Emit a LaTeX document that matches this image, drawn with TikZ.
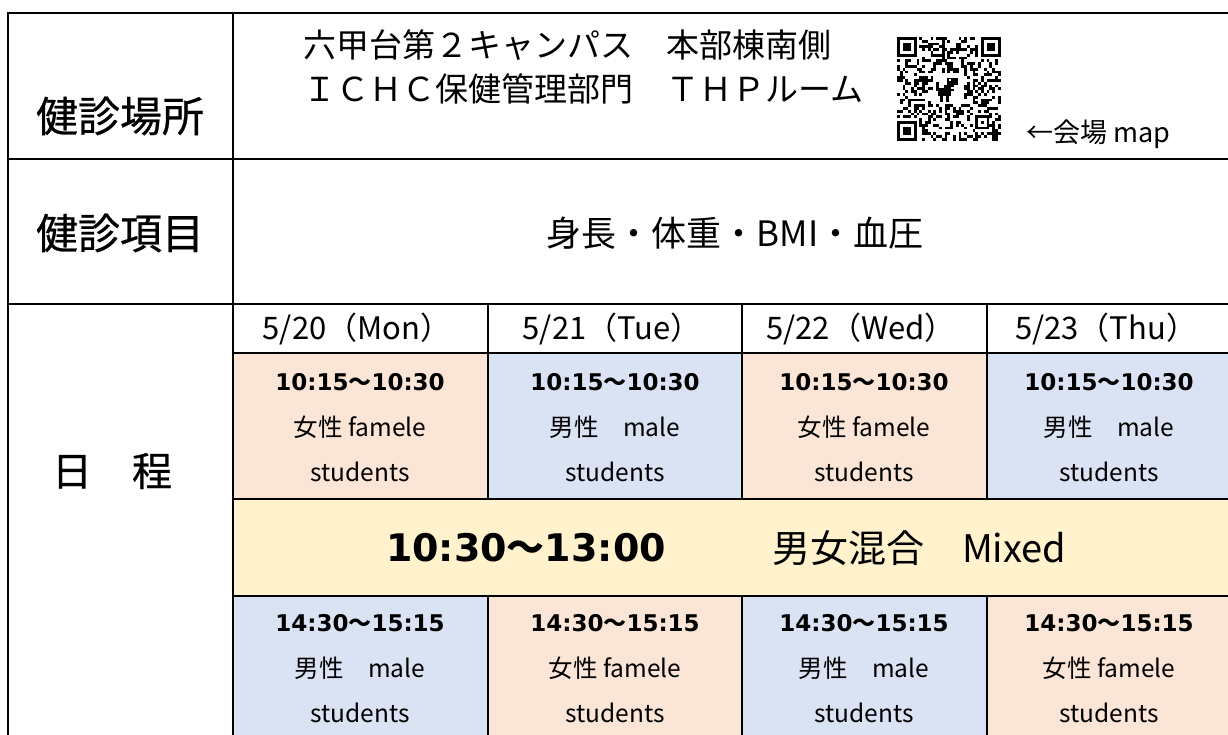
\documentclass[tikz,border=0pt]{standalone}
\usepackage{fontspec}
\newfontfamily\jp{Noto Sans CJK JP}
\newfontfamily\jpm{Noto Sans CJK JP}[FakeBold=0.6]
\newfontfamily\numf{DejaVu Sans}
\definecolor{orc}{HTML}{FBE5D6}
\definecolor{blc}{HTML}{DAE3F3}
\definecolor{yec}{HTML}{FFF2CC}
\newcommand{\tspan}[2]{{\numf\bfseries #1}{\jp\bfseries ～}{\numf\bfseries #2}}
\begin{document}
\begin{tikzpicture}[x=1pt,y=-1pt,line width=2pt,
  hdr/.style={inner sep=0pt,font=\jpm\fontsize{42}{50}\selectfont},
  loc/.style={inner sep=0pt,anchor=west,font=\jp\fontsize{33}{38}\selectfont},
  date/.style={inner sep=0pt,font=\jp\fontsize{31}{36}\selectfont},
  tm/.style={inner sep=0pt,font=\fontsize{23}{28}\selectfont},
  who/.style={inner sep=0pt,font=\jp\fontsize{24.5}{28}\selectfont},
  big/.style={inner sep=0pt,font=\fontsize{38}{44}\selectfont},
  thin/.style={line width=1.3pt}]
\useasboundingbox (0,0) rectangle (1228,735);
\clip (0,0) rectangle (1228,735);
% cell fills
\fill[orc] (233,353) rectangle (488,499);
\fill[blc] (488,353) rectangle (742,499);
\fill[orc] (742,353) rectangle (987,499);
\fill[blc] (987,353) rectangle (1240,499);
\fill[yec] (233,499) rectangle (1240,596);
\fill[blc] (233,596) rectangle (488,745);
\fill[orc] (488,596) rectangle (742,745);
\fill[blc] (742,596) rectangle (987,745);
\fill[orc] (987,596) rectangle (1240,745);
% grid
\draw (8,13) -- (1240,13);
\draw (8,159) -- (1240,159);
\draw (8,304) -- (1240,304);
\draw (233,353) -- (1240,353);
\draw (233,499) -- (1240,499);
\draw (233,596) -- (1240,596);
\draw (8,12) -- (8,745);
\draw (233,12) -- (233,745);
\foreach \x in {488,742,987}{
  \draw (\x,304) -- (\x,353);
  \draw[thin] (\x,353) -- (\x,499);
  \draw[thin] (\x,596) -- (\x,745);
}
% left headers
\node[hdr] (h1) at (120,116) {健診場所};
\node[hdr] (h2) at (120,233) {健診項目};
\node[hdr,font=\jpm\fontsize{40}{48}\selectfont] (h3) at (112,471) {日　程};
% location
\node[loc] (l1) at (302,45) {六甲台第２キャンパス　本部棟南側};
\node[loc] (l2) at (302,89) {ＩＣＨＣ保健管理部門　ＴＨＰルーム};
\node[inner sep=0pt,anchor=west,font=\jp\fontsize{27}{32}\selectfont] (map) at (1025,134) {←会場 map};
% QR code
\begin{scope}[shift={(897,37)}]
  \def\m{2.8}
  \pgfmathsetseed{12}
  \foreach \i in {0,...,36}{
    \foreach \j in {0,...,36}{
      \pgfmathsetmacro{\qrr}{rnd}
      \pgfmathtruncatemacro{\qz}{(\i<8)*(\j<8)+(\i>28)*(\j<8)+(\i<8)*(\j>28)+(\i>12)*(\i<24)*(\j>12)*(\j<24)+(\i>26)*(\i<33)*(\j>26)*(\j<33)}
      \pgfmathtruncatemacro{\qon}{(\qrr<0.42)*(\qz==0)}
      \ifnum\qon=1 \fill[black] (\i*\m,\j*\m) rectangle ++(\m,\m);\fi
    }
  }
  \foreach \fx/\fy in {0/0,30/0,0/30}{
    \fill[black] (\fx*\m,\fy*\m) rectangle ++(7*\m,7*\m);
    \fill[white] (\fx*\m+\m,\fy*\m+\m) rectangle ++(5*\m,5*\m);
    \fill[black] (\fx*\m+2*\m,\fy*\m+2*\m) rectangle ++(3*\m,3*\m);
  }
  \fill[black] (28*\m,28*\m) rectangle ++(5*\m,5*\m);
  \fill[white] (29*\m,29*\m) rectangle ++(3*\m,3*\m);
  \fill[black] (30*\m,30*\m) rectangle ++(\m,\m);
  % dino
  \begin{scope}[shift={(39,41)}]
    \fill[black] (11,0) rectangle (22,7);
    \fill[black] (11,7) rectangle (18,9.5);
    \fill[black] (8,7) rectangle (15,18);
    \fill[black] (2,10) rectangle (12,18);
    \fill[black] (0,4) rectangle (2.5,13);
    \fill[black] (15,11) rectangle (18,13);
    \fill[black] (4,18) rectangle (7,24);
    \fill[black] (10,18) rectangle (13,24);
    \fill[white] (13,1.5) rectangle (15,3.5);
  \end{scope}
\end{scope}
% items
\node[inner sep=0pt,font=\jp\fontsize{35}{40}\selectfont] (items) at (735,233) {身長・体重・BMI・血圧};
% dates
\node[date] (d1) at (357,329) {5/20（Mon）};
\node[date] (d2) at (612,329) {5/21（Tue）};
\node[date] (d3) at (861,329) {5/22（Wed）};
\node[date] (d4) at (1106,329) {5/23（Thu）};
% morning slots
\node[tm] (a1) at (360,382) {\tspan{10:15}{10:30}};
\node[tm] (a2) at (615,382) {\tspan{10:15}{10:30}};
\node[tm] (a3) at (864,382) {\tspan{10:15}{10:30}};
\node[tm] (a4) at (1109,382) {\tspan{10:15}{10:30}};
\node[who] (b1) at (360,427) {女性 famele};
\node[who] (b2) at (615,427) {男性　male};
\node[who] (b3) at (864,427) {女性 famele};
\node[who] (b4) at (1109,427) {男性　male};
\node[who] (s1) at (360,472) {students};
\node[who] (s2) at (615,472) {students};
\node[who] (s3) at (864,472) {students};
\node[who] (s4) at (1109,472) {students};
% mixed
\node[big,anchor=west] (mx1) at (385,548) {\tspan{10:30}{13:00}};
\node[inner sep=0pt,anchor=west,font=\jp\fontsize{38}{44}\selectfont] (mx2) at (771,548) {男女混合　Mixed};
% afternoon slots
\node[tm] (p1) at (360,623) {\tspan{14:30}{15:15}};
\node[tm] (p2) at (615,623) {\tspan{14:30}{15:15}};
\node[tm] (p3) at (864,623) {\tspan{14:30}{15:15}};
\node[tm] (p4) at (1109,623) {\tspan{14:30}{15:15}};
\node[who] (q1) at (360,668) {男性　male};
\node[who] (q2) at (615,668) {女性 famele};
\node[who] (q3) at (864,668) {男性　male};
\node[who] (q4) at (1109,668) {女性 famele};
\node[who] (r1) at (360,713) {students};
\node[who] (r2) at (615,713) {students};
\node[who] (r3) at (864,713) {students};
\node[who] (r4) at (1109,713) {students};
\end{tikzpicture}
\end{document}
